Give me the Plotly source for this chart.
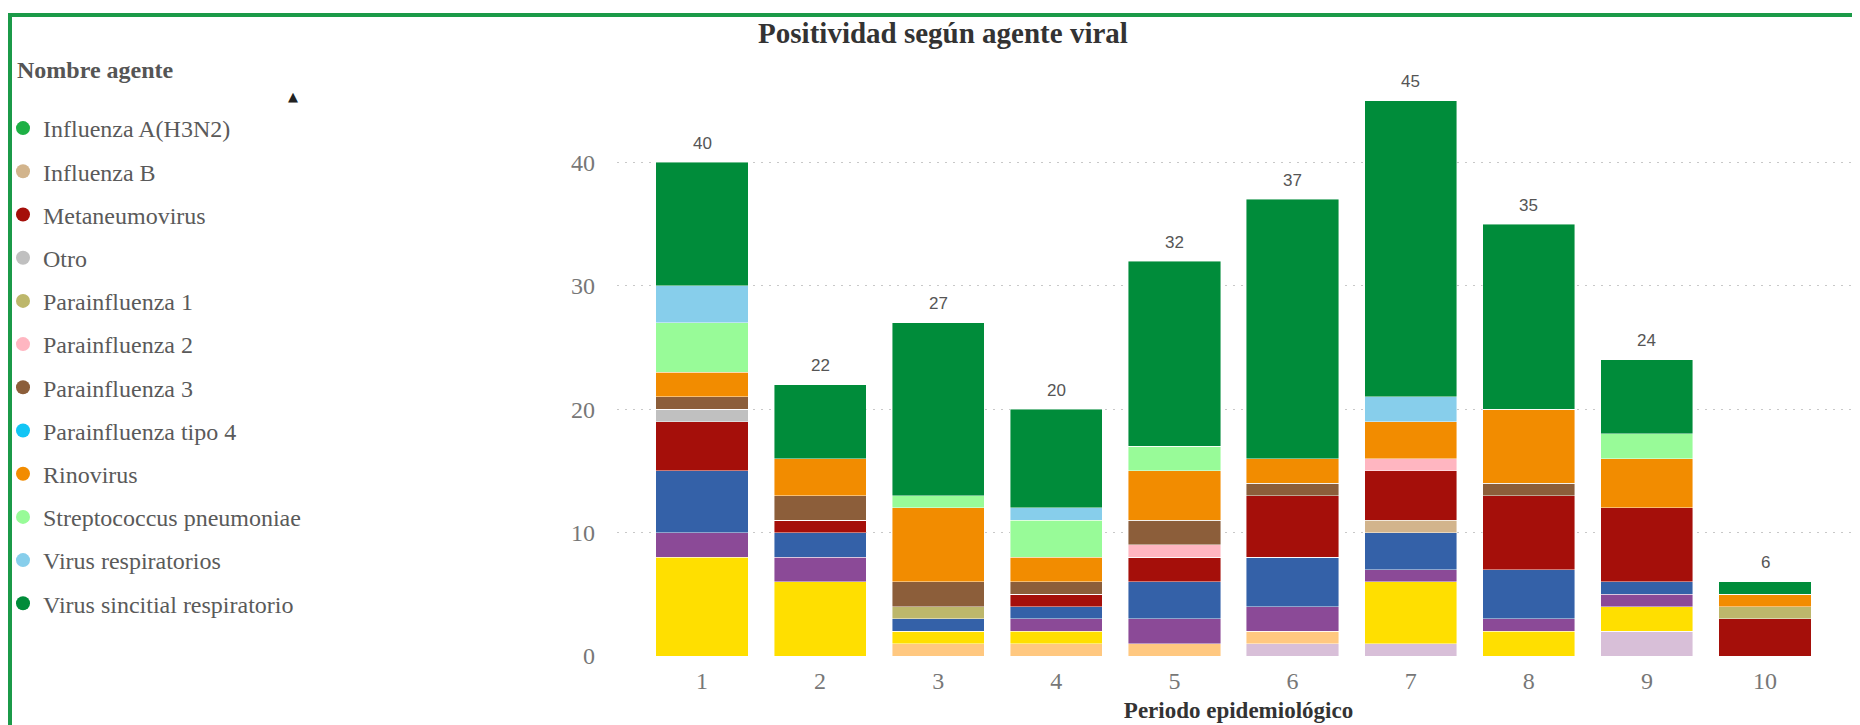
import plotly.graph_objects as go

# ---------------- data ----------------
periods = [1, 2, 3, 4, 5, 6, 7, 8, 9, 10]

# agents scrolled out of the legend view (top of the list), bottom of the stack
adenovirus        = [0, 0, 0, 0, 0, 1, 1, 0, 2, 0]
bocavirus         = [0, 0, 1, 1, 1, 1, 0, 0, 0, 0]
coronavirus       = [8, 6, 1, 1, 0, 0, 5, 2, 2, 0]
enterovirus       = [2, 2, 0, 1, 2, 2, 1, 1, 1, 0]
influenza_h1n1    = [5, 2, 1, 1, 3, 4, 3, 4, 1, 0]
# agents visible in the legend
influenza_h3n2    = [0, 0, 0, 0, 0, 0, 0, 0, 0, 0]
influenza_b       = [0, 0, 0, 0, 0, 0, 1, 0, 0, 0]
metaneumovirus    = [4, 1, 0, 1, 2, 5, 4, 6, 6, 3]
otro              = [1, 0, 0, 0, 0, 0, 0, 0, 0, 0]
parainfluenza_1   = [0, 0, 1, 0, 0, 0, 0, 0, 0, 1]
parainfluenza_2   = [0, 0, 0, 0, 1, 0, 1, 0, 0, 0]
parainfluenza_3   = [1, 2, 2, 1, 2, 1, 0, 1, 0, 0]
parainfluenza_4   = [0, 0, 0, 0, 0, 0, 0, 0, 0, 0]
rinovirus         = [2, 3, 6, 2, 4, 2, 3, 6, 4, 1]
streptococcus     = [4, 0, 1, 3, 2, 0, 0, 0, 2, 0]
virus_resp        = [3, 0, 0, 1, 0, 0, 2, 0, 0, 0]
vsr               = [10, 6, 14, 8, 15, 21, 24, 15, 6, 1]

hidden_names  = ["Adenovirus", "Bocavirus", "Coronavirus", "Enterovirus", "Influenza A(H1N1)"]
hidden_values = [adenovirus, bocavirus, coronavirus, enterovirus, influenza_h1n1]
hidden_colors = ["#D8BFD8", "#FFC880", "#FFDF00", "#8B4A97", "#3461A8"]

legend_names  = ["Influenza A(H3N2)", "Influenza B", "Metaneumovirus", "Otro",
                 "Parainfluenza 1", "Parainfluenza 2", "Parainfluenza 3",
                 "Parainfluenza tipo 4", "Rinovirus", "Streptococcus pneumoniae",
                 "Virus respiratorios", "Virus sincitial respiratorio"]
legend_values = [influenza_h3n2, influenza_b, metaneumovirus, otro, parainfluenza_1,
                 parainfluenza_2, parainfluenza_3, parainfluenza_4, rinovirus,
                 streptococcus, virus_resp, vsr]
legend_colors = ["#1DB045", "#D2B48C", "#A50F0A", "#C0C0C0", "#BDB76B", "#FFB6C1",
                 "#8C5E3A", "#12C5F5", "#F28C00", "#98FB98", "#87CEEB", "#008C3A"]

title_text = "Positividad según agente viral"
legend_title = "Nombre agente"
x_title = "Periodo epidemiológico"

# ---------------- layout constants (pixels) ----------------
W, H = 1860, 725
OFF = 8                       # page body margin of the html page
ML, MR = 617 - OFF, OFF
MT, MB = 85 - OFF, H - (656 - OFF)
PW, PH = W - ML - MR, H - MT - MB

def px_x(p):   # screen pixel x -> paper x
    return (p - OFF - ML) / PW

def px_y(p):   # screen pixel y (from top) -> paper y
    return 1 - (p - OFF - MT) / PH

SERIF = "Liberation Serif"
SANS = "Liberation Sans"

fig = go.Figure()

all_names = hidden_names + legend_names
all_values = hidden_values + legend_values
all_colors = hidden_colors + legend_colors

for name, vals, col in zip(all_names, all_values, all_colors):
    fig.add_trace(go.Bar(
        x=periods, y=vals, name=name, legendgroup=name, showlegend=False,
        marker=dict(color=col, line=dict(color="rgba(255,255,255,0.55)", width=0.8)),
        hovertemplate=name + ": %{y}<extra></extra>",
    ))

# legend entries (circle markers) for the visible part of the legend list
for name, col in zip(legend_names, legend_colors):
    fig.add_trace(go.Scatter(
        x=[None], y=[None], mode="markers", name=name, legendgroup=name,
        marker=dict(symbol="circle", size=14, color=col),
        showlegend=True,
    ))

# total labels above bars
totals = [sum(v[i] for v in all_values) for i in range(len(periods))]
for p, t in zip(periods, totals):
    fig.add_annotation(x=p, y=t, text=str(t), showarrow=False, yanchor="middle",
                       yshift=19, font=dict(family=SANS, size=17, color="#555555"))

# legend title and scroll arrow
fig.add_annotation(xref="paper", yref="paper", x=px_x(15), y=px_y(70),
                   xanchor="left", yanchor="middle", showarrow=False,
                   text="<b>" + legend_title + "</b>",
                   font=dict(family=SERIF, size=24, color="#555555"))
fig.add_annotation(xref="paper", yref="paper", x=px_x(293), y=px_y(97),
                   xanchor="center", yanchor="middle", showarrow=False,
                   text="▲", font=dict(family="DejaVu Sans", size=13, color="#222222"))

# green frame (top and left edges visible)
fig.add_shape(type="rect", xref="paper", yref="paper",
              x0=px_x(OFF + 2), x1=px_x(W + 30), y0=px_y(15), y1=px_y(H + 30),
              line=dict(color="#1B9A48", width=4), fillcolor="rgba(0,0,0,0)", layer="below")

fig.update_layout(
    width=W, height=H,
    margin=dict(l=ML, r=MR, t=MT, b=MB, autoexpand=False),
    paper_bgcolor="white", plot_bgcolor="white",
    barmode="stack", bargap=0.22,
    title=dict(text="<b>" + title_text + "</b>", xref="container", yref="container",
               x=(943 - OFF) / W, y=1 - (33 - OFF) / H, xanchor="center", yanchor="middle",
               font=dict(family=SERIF, size=29, color="#333333")),
    showlegend=True,
    legend=dict(x=px_x(3), y=px_y(106), xanchor="left", yanchor="top",
                font=dict(family=SERIF, size=24, color="#5A5A5A"),
                tracegroupgap=9, itemclick="toggle", bgcolor="rgba(0,0,0,0)"),
    font=dict(family=SERIF),
)

fig.update_xaxes(
    range=[1 - 85 / 118.11, 10 + 95 / 118.11],
    tickmode="array", tickvals=periods, ticktext=[str(p) for p in periods],
    showgrid=False, zeroline=False, showline=False, ticks="",
    ticklabelstandoff=8,
    tickfont=dict(family=SERIF, size=24, color="#777777"),
    title=dict(text="<b>" + x_title + "</b>", standoff=8,
               font=dict(family=SERIF, size=23, color="#333333")),
)
fig.update_yaxes(
    range=[0, PH / 12.34], dtick=10, tick0=0,
    showgrid=True, gridcolor="#C8C8C8", gridwidth=1, griddash="2px,6px",
    zeroline=False, showline=False, ticks="",
    ticklabelstandoff=21,
    tickfont=dict(family=SERIF, size=24, color="#777777"),
)

fig.write_html("out.html")
